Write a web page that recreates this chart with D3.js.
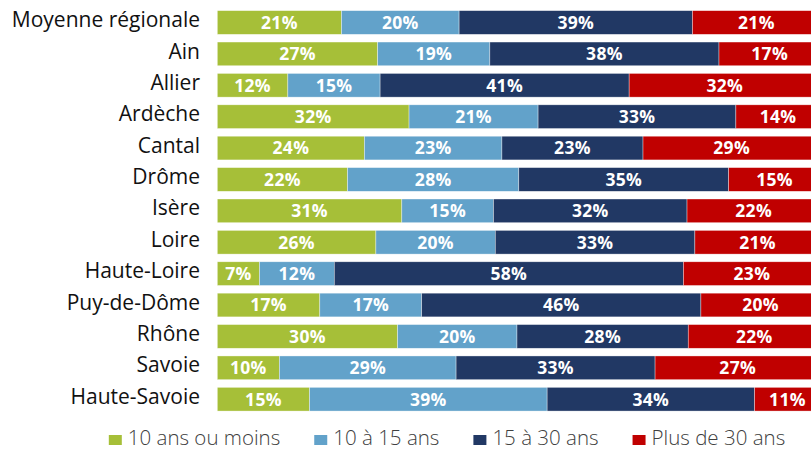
<!DOCTYPE html>
<html>
<head>
<meta charset="utf-8">
<script src="https://cdn.jsdelivr.net/npm/d3@7"></script>
<style>
  html, body { margin: 0; padding: 0; background: #fff; }
  svg { display: block; }
</style>
</head>
<body>
<svg id="chart" width="811" height="451"></svg>
<script>
const categories = ["Moyenne régionale","Ain","Allier","Ardèche","Cantal","Drôme","Isère","Loire","Haute-Loire","Puy-de-Dôme","Rhône","Savoie","Haute-Savoie"];
const seriesNames = ["10 ans ou moins","10 à 15 ans","15 à 30 ans","Plus de 30 ans"];
const seriesColors = ["#a6bf38","#62a2ca","#213864","#c00000"];
// percentages (bar segment lengths)
const ansOuMoins10 = [20.6, 26.6, 11.7, 31.8, 24.4, 21.6, 30.6, 26.3, 7.0, 17.0, 29.9, 10.3, 15.3];
const ans10a15     = [19.5, 18.6, 15.3, 21.4, 22.8, 28.4, 15.2, 19.8, 12.4, 16.9, 19.8, 29.3, 39.4];
const ans15a30     = [38.7, 38.0, 41.3, 32.8, 23.4, 34.8, 32.1, 33.1, 57.9, 46.3, 28.4, 33.0, 34.4];
const plusDe30     = [21.2, 16.8, 31.7, 14.0, 29.4, 15.2, 22.1, 20.8, 22.7, 19.8, 21.9, 27.4, 10.9];

const seriesValues = [ansOuMoins10, ans10a15, ans15a30, plusDe30];
const rows = categories.map((c, i) => {
  const r = { cat: c };
  seriesNames.forEach((s, k) => r[s] = seriesValues[k][i]);
  return r;
});

const svg = d3.select("#chart");
const x = d3.scaleLinear().domain([0, 100]).range([217.3, 820.3]);
const y = d3.scaleBand().domain(categories).range([6.8, 414.9]).paddingInner(0.245).paddingOuter(0.1225);
const color = d3.scaleOrdinal().domain(seriesNames).range(seriesColors);

const stack = d3.stack().keys(seriesNames)(rows);

const layer = svg.append("g").selectAll("g").data(stack).join("g")
  .attr("fill", d => color(d.key));

layer.selectAll("rect").data(d => d).join("rect")
  .attr("x", d => x(d[0]))
  .attr("y", d => y(d.data.cat))
  .attr("width", d => x(d[1]) - x(d[0]))
  .attr("height", y.bandwidth())
  .attr("stroke", "#ffffff")
  .attr("stroke-opacity", 0.6)
  .attr("stroke-width", 0.6);

const fmt = v => Math.round(v) + "%";
svg.append("g").selectAll("g").data(stack).join("g")
  .selectAll("text").data(d => d).join("text")
  .attr("x", d => (x(d[0]) + x(d[1])) / 2)
  .attr("y", d => y(d.data.cat) + y.bandwidth() / 2 + 6.3)
  .attr("text-anchor", "middle")
  .attr("fill", "#ffffff")
  .attr("font-family", "'Open Sans', sans-serif")
  .attr("font-weight", 700)
  .attr("font-size", 17.5)
  .attr("letter-spacing", 0.3)
  .text(d => fmt(d[1] - d[0]));

// category axis
const yAxis = d3.axisLeft(y).tickSize(0).tickPadding(0);
const ga = svg.append("g").attr("transform", "translate(200,0)").call(yAxis);
ga.select(".domain").remove();
ga.selectAll("text")
  .attr("font-family", "'Open Sans', sans-serif")
  .attr("font-size", 21)
  .attr("fill", "#111111")
  .attr("dy", "0.22em");

// legend
const legend = svg.append("g");
let lx = 0;
seriesNames.forEach((s, i) => {
  const g = legend.append("g").attr("transform", `translate(${lx},0)`);
  g.append("rect").attr("x", 0).attr("y", 435).attr("width", 13).attr("height", 10).attr("fill", color(s));
  const t = g.append("text").attr("x", 19).attr("y", 444.5)
    .attr("font-family", "'Open Sans', sans-serif")
    .attr("font-weight", 300)
    .attr("font-size", 20.5)
    .attr("fill", "#404040")
    .text(s);
  const w = t.node().getComputedTextLength();
  lx += 19 + w + 34;
});
const total = lx - 34;
legend.attr("transform", `translate(${447 - total / 2},0)`);
</script>
</body>
</html>
